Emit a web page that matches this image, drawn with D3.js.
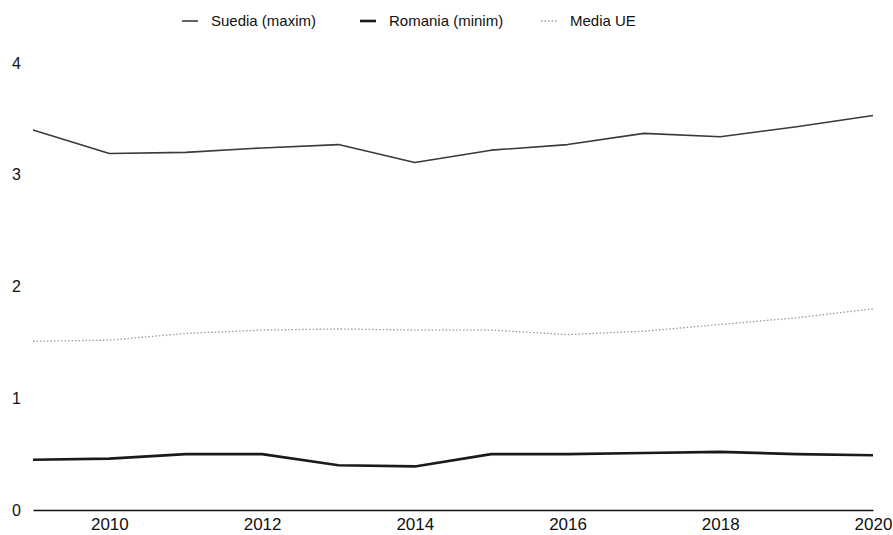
<!DOCTYPE html>
<html>
<head>
<meta charset="utf-8">
<script src="https://cdn.jsdelivr.net/npm/d3@7"></script>
<style>
  html, body { margin: 0; padding: 0; background: #fff; }
  svg { display: block; font-family: "Liberation Sans", Arial, sans-serif; }
</style>
</head>
<body>
<svg id="chart" width="893" height="535"></svg>
<script>
const years = [2009, 2010, 2011, 2012, 2013, 2014, 2015, 2016, 2017, 2018, 2019, 2020];
const suedia = [3.40, 3.19, 3.20, 3.24, 3.27, 3.11, 3.22, 3.27, 3.37, 3.34, 3.43, 3.53];
const romania = [0.45, 0.46, 0.50, 0.50, 0.40, 0.39, 0.50, 0.50, 0.51, 0.52, 0.50, 0.49];
const mediaUE = [1.51, 1.52, 1.58, 1.61, 1.62, 1.61, 1.61, 1.57, 1.60, 1.66, 1.72, 1.80];
const seriesNames = ["Suedia (maxim)", "Romania (minim)", "Media UE"];
const xTicks = [2010, 2012, 2014, 2016, 2018, 2020];
const yTicks = [0, 1, 2, 3, 4];

const svg = d3.select("#chart");
const x = d3.scaleLinear().domain([2009, 2020]).range([33, 873]);
const y = d3.scaleLinear().domain([0, 4]).range([510, 63]);

const styles = [
  { stroke: "#3a3a3a", width: 1.6, dash: null },
  { stroke: "#1a1a1a", width: 2.6, dash: null },
  { stroke: "#9a9a9a", width: 1.3, dash: "1.5,2" }
];
const seriesData = [suedia, romania, mediaUE];

// x axis (baseline at 0)
const xAxis = svg.append("g")
  .attr("transform", `translate(0,${y(0)})`)
  .call(d3.axisBottom(x).tickValues(xTicks).tickFormat(d3.format("d")).tickSize(0).tickPadding(8));
xAxis.select(".domain").attr("stroke", "#111").attr("stroke-width", 1.4);
xAxis.selectAll("text").attr("font-size", 17).attr("fill", "#111")
  .attr("font-family", "Liberation Sans, Arial, sans-serif");

// y axis
const yAxis = svg.append("g")
  .attr("transform", "translate(21,0)")
  .call(d3.axisLeft(y).tickValues(yTicks).tickFormat(d3.format("d")).tickSize(0).tickPadding(0));
yAxis.select(".domain").remove();
yAxis.selectAll("text").attr("font-size", 16).attr("fill", "#111")
  .attr("font-family", "Liberation Sans, Arial, sans-serif");

const line = d3.line().x((d, i) => x(years[i])).y(d => y(d));

seriesData.forEach((s, k) => {
  svg.append("path")
    .datum(s)
    .attr("fill", "none")
    .attr("stroke", styles[k].stroke)
    .attr("stroke-width", styles[k].width)
    .attr("stroke-dasharray", styles[k].dash)
    .attr("stroke-linejoin", "round")
    .attr("d", line);
});

// legend
const legendPos = [182, 360, 541];
const legend = svg.append("g").attr("transform", "translate(0,21)");
seriesNames.forEach((name, k) => {
  const g = legend.append("g").attr("transform", `translate(${legendPos[k]},0)`);
  g.append("line")
    .attr("x1", 0).attr("x2", 16).attr("y1", 0).attr("y2", 0)
    .attr("stroke", styles[k].stroke)
    .attr("stroke-width", k === 1 ? 2.6 : 1.6)
    .attr("stroke-dasharray", styles[k].dash);
  g.append("text")
    .attr("x", 29).attr("y", 5)
    .attr("font-size", 15).attr("fill", "#111")
    .text(name);
});
</script>
</body>
</html>
